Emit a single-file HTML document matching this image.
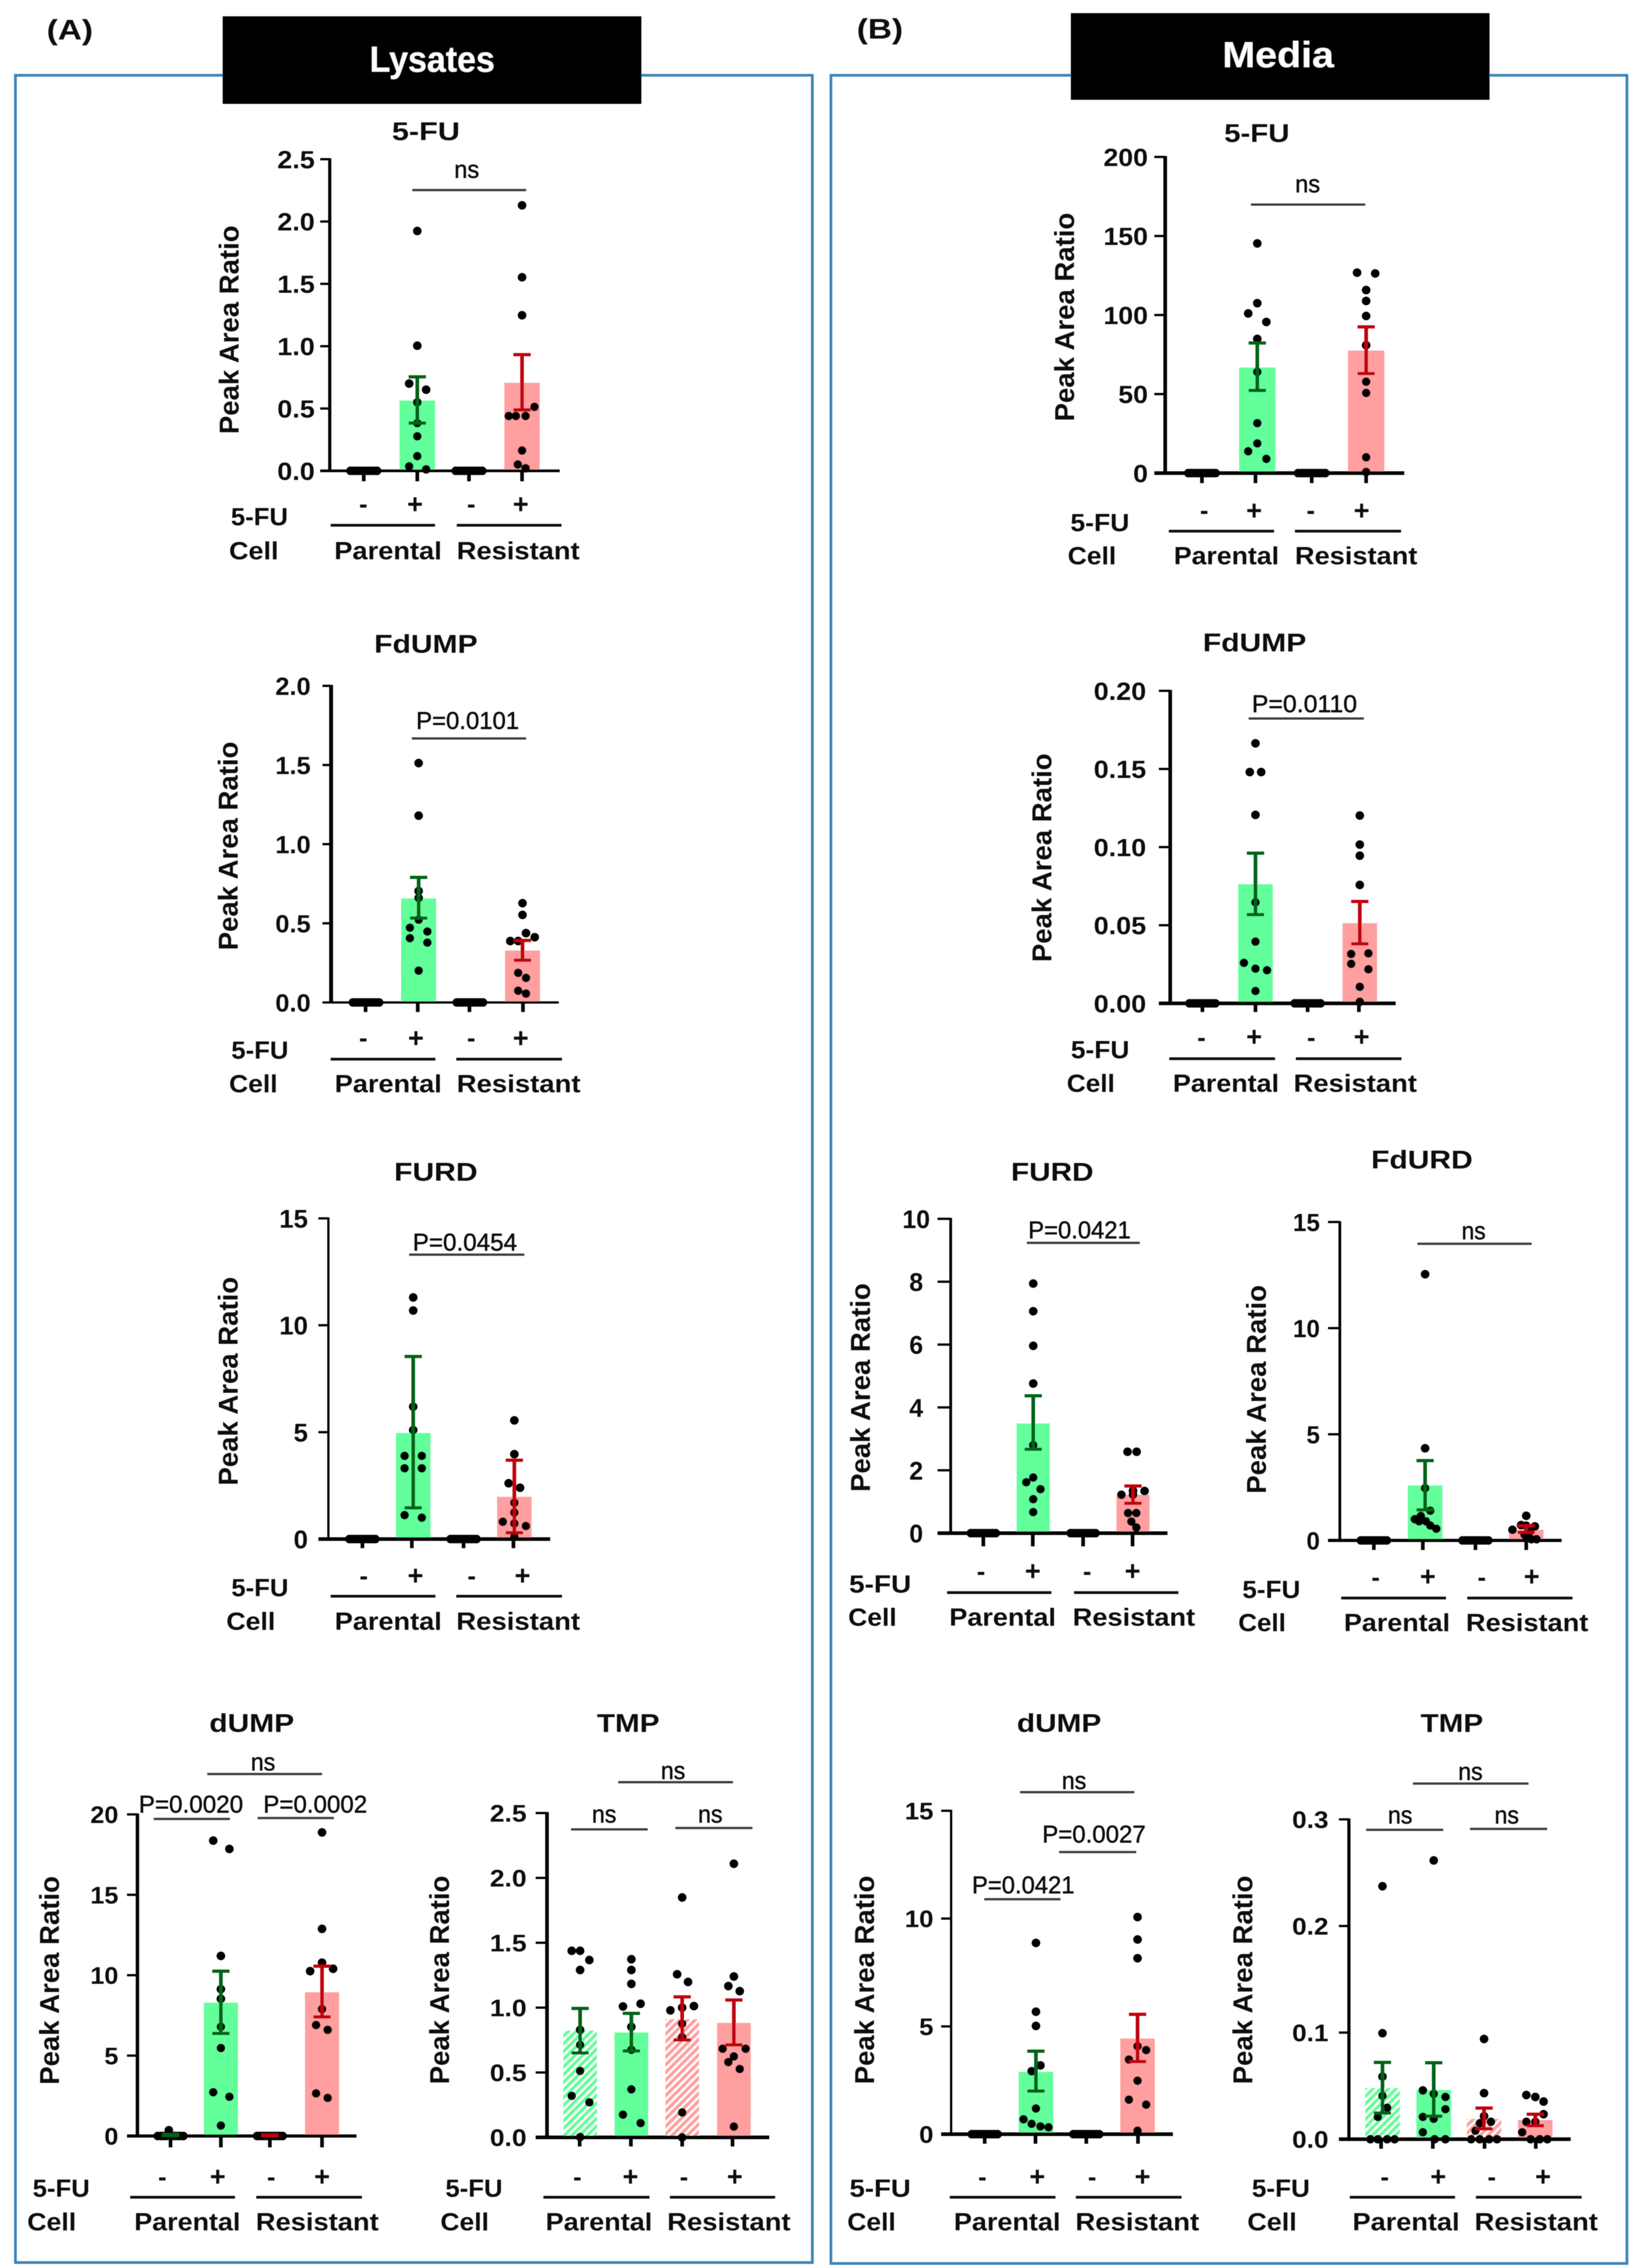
<!DOCTYPE html>
<html lang="en">
<head>
<meta charset="utf-8">
<title>Peak area ratio panels: lysates and media</title>
<style>
html,body{margin:0;padding:0;background:#fff}
svg{display:block;position:absolute;left:0;top:0}
text{font-family:"Liberation Sans",sans-serif;fill:#111}
</style>
</head>
<body>
<svg id="figure" width="3618" height="5000" viewBox="0 0 3618 5000">
  <defs>
    <filter id="soften" filterUnits="userSpaceOnUse" x="0" y="0" width="3618" height="5000">
      <feGaussianBlur stdDeviation="0.9"></feGaussianBlur>
    </filter>
    <pattern id="hatch-green" width="12" height="12" patternUnits="userSpaceOnUse" patternTransform="rotate(45)">
      <rect width="12" height="12" fill="#62ff9a"></rect>
      <rect width="5" height="12" fill="#ffffff"></rect>
    </pattern>
    <pattern id="hatch-red" width="12" height="12" patternUnits="userSpaceOnUse" patternTransform="rotate(45)">
      <rect width="12" height="12" fill="#ff9f9f"></rect>
      <rect width="5" height="12" fill="#ffffff"></rect>
    </pattern>
  </defs>
  <g id="canvas" filter="url(#soften)">
  <rect x="34" y="166" width="1757" height="4822" fill="none" stroke="#3d85b6" stroke-width="6"></rect>
  <rect x="1832" y="166" width="1755" height="4824" fill="none" stroke="#3d85b6" stroke-width="6"></rect>
  <rect x="491" y="36" width="923" height="193" fill="#000000"></rect>
  <rect x="2361" y="29" width="923" height="191" fill="#000000"></rect>
  <text x="953" y="158" font-size="80" font-weight="700" text-anchor="middle" textLength="276" lengthAdjust="spacingAndGlyphs" style="fill:#fff">Lysates</text>
  <text x="2818" y="148" font-size="80" font-weight="700" text-anchor="middle" textLength="246" lengthAdjust="spacingAndGlyphs" style="fill:#fff">Media</text>
  <text x="103" y="87" font-size="62" font-weight="700" textLength="102" lengthAdjust="spacingAndGlyphs">(A)</text>
  <text x="1889" y="85" font-size="62" font-weight="700" textLength="102" lengthAdjust="spacingAndGlyphs">(B)</text>
  </g>
</svg>
<script>
// Shared categories
const treatmentSigns = ['-', '+', '-', '+'];
const cellLines = ['Parental', 'Resistant'];
const noSignal = [0, 0, 0, 0, 0, 0, 0, 0, 0, 0];
const noSignalJitter = [-0.75, -0.58, -0.42, -0.25, -0.08, 0.08, 0.25, 0.42, 0.58, 0.75];

// Lysates 5-FU
const lysFuTicks = ['0.0', '0.5', '1.0', '1.5', '2.0', '2.5'];
const lysFuMeans = [0, 0.564, 0, 0.706];
const lysFuErrLow = [0, 0.383, 0, 0.489];
const lysFuErrHigh = [0, 0.754, 0, 0.932];
const lysFuValues = [noSignal, [1.924, 1.004, 0.70, 0.651, 0.549, 0.383, 0.277, 0.118, 0.036, 0.012], noSignal, [2.13, 1.553, 1.248, 0.513, 0.44, 0.44, 0.44, 0.163, 0.051, 0.021]];
const lysFuJitter = [noSignalJitter, [0, 0, -0.46, 0.5, 0, 0, 0, 0, -0.46, 0.5], noSignalJitter, [0, 0, 0, 0.7, -0.75, -0.35, 0.2, 0, -0.24, 0.2]];
const lysFuStats = ['ns'];

// Lysates FdUMP
const lysFdumpTicks = ['0.0', '0.5', '1.0', '1.5', '2.0'];
const lysFdumpMeans = [0, 0.657, 0, 0.328];
const lysFdumpErrLow = [0, 0.533, 0, 0.267];
const lysFdumpErrHigh = [0, 0.79, 0, 0.392];
const lysFdumpValues = [noSignal, [1.512, 1.18, 0.704, 0.523, 0.472, 0.448, 0.406, 0.378, 0.201, 0.66], noSignal, [0.627, 0.553, 0.438, 0.412, 0.388, 0.388, 0.187, 0.155, 0.074, 0.056]];
const lysFdumpJitter = [noSignalJitter, [0, 0, 0, 0, -0.5, 0.5, -0.5, 0.5, 0, 0], noSignalJitter, [0, 0, 0.2, 0.7, -0.7, -0.25, -0.25, 0.2, -0.25, 0.2]];
const lysFdumpStats = ['P=0.0101'];

// Lysates FURD
const lysFurdTicks = ['0', '5', '10', '15'];
const lysFurdMeans = [0, 4.96, 0, 1.976];
const lysFurdErrLow = [0, 1.46, 0, 0.296];
const lysFurdErrHigh = [0, 8.54, 0, 3.69];
const lysFurdValues = [noSignal, [11.3, 10.69, 6.19, 5.1, 3.89, 3.89, 3.31, 3.31, 1.12, 1.0], noSignal, [5.55, 3.97, 2.61, 2.4, 1.7, 1.24, 0.81, 0.73, 0.61, 0.11]];
const lysFurdJitter = [noSignalJitter, [0, 0, 0, 0, -0.5, 0.5, -0.5, 0.5, -0.5, 0.5], noSignalJitter, [0, 0, -0.33, 0.33, 0, 0, -0.67, 0, 0.67, 0]];
const lysFurdStats = ['P=0.0454'];

// Lysates dUMP
const lysDumpTicks = ['0', '5', '10', '15', '20'];
const lysDumpMeans = [0.05, 8.29, 0.03, 8.94];
const lysDumpErrLow = [0.03, 6.38, 0.02, 7.41];
const lysDumpErrHigh = [0.09, 10.25, 0.06, 10.56];
const lysDumpValues = [[0.36, 0, 0, 0, 0, 0, 0, 0, 0, 0], [18.37, 17.85, 11.2, 9.13, 8.53, 6.79, 5.47, 2.72, 2.44, 0.65], noSignal, [18.88, 12.88, 10.78, 10.25, 10.4, 7.89, 6.9, 6.6, 2.65, 2.37]];
const lysDumpJitter = [[-0.1, -0.75, -0.58, -0.42, -0.25, 0.08, 0.25, 0.42, 0.58, 0.75], [-0.45, 0.5, 0, 0, 0, 0, 0, -0.45, 0.5, 0], noSignalJitter, [0, 0, 0, -0.7, 0.65, 0, -0.35, 0.33, -0.35, 0.33]];
const lysDumpStats = ['ns', 'P=0.0020', 'P=0.0002'];

// Lysates TMP
const lysTmpTicks = ['0.0', '0.5', '1.0', '1.5', '2.0', '2.5'];
const lysTmpMeans = [0.8225, 0.808, 0.911, 0.882];
const lysTmpErrLow = [0.651, 0.666, 0.751, 0.713];
const lysTmpErrHigh = [0.994, 0.956, 1.083, 1.059];
const lysTmpValues = [[1.438, 1.438, 1.367, 1.29, 0.828, 0.713, 0.512, 0.32, 0.27, 0.003], [1.373, 1.29, 1.183, 1.009, 1.03, 0.852, 0.675, 0.37, 0.175, 0.11], [1.849, 1.257, 1.198, 1.012, 1.0, 0.979, 0.876, 0.772, 0.192, 0], [2.109, 1.24, 1.166, 1.127, 0.683, 0.683, 0.624, 0.58, 0.527, 0.083]];
const lysTmpJitter = [[-0.5, 0, 0.55, 0, 0, 0, 0, -0.5, 0.55, 0], [0, 0, 0, -0.5, 0.55, 0, 0, 0, -0.5, 0.55], [0, -0.3, 0.35, 0.7, 0, -0.7, 0, 0, 0, 0], [0, 0, -0.33, 0.35, -0.67, 0.7, 0, -0.33, 0.35, 0]];
const lysTmpStats = ['ns', 'ns', 'ns'];

// Media 5-FU
const medFuTicks = ['0', '50', '100', '150', '200'];
const medFuMeans = [0, 66.8, 0, 77.5];
const medFuErrLow = [0, 52.3, 0, 63];
const medFuErrHigh = [0, 82.3, 0, 92.5];
const medFuValues = [noSignal, [145.3, 107.5, 101, 95.6, 84.9, 64, 31.6, 18.8, 13.8, 9], noSignal, [126.8, 126.3, 115.8, 108.9, 99.4, 80.9, 57.8, 50.7, 10, 0.7]];
const medFuJitter = [noSignalJitter, [0, 0, -0.5, 0.5, 0, 0, 0, 0, -0.5, 0.5], noSignalJitter, [-0.5, 0.5, 0, 0, 0, 0, 0, 0, 0, 0]];
const medFuStats = ['ns'];

// Media FdUMP
const medFdumpTicks = ['0.00', '0.05', '0.10', '0.15', '0.20'];
const medFdumpMeans = [0, 0.0762, 0, 0.0513];
const medFdumpErrLow = [0, 0.0568, 0, 0.0381];
const medFdumpErrHigh = [0, 0.0961, 0, 0.0652];
const medFdumpValues = [noSignal, [0.1664, 0.148, 0.148, 0.1206, 0.0646, 0.0395, 0.0259, 0.0222, 0.0212, 0.0079], noSignal, [0.1202, 0.1016, 0.0945, 0.0758, 0.0316, 0.032, 0.0253, 0.0218, 0.0106, 0.001]];
const medFdumpJitter = [noSignalJitter, [0, -0.33, 0.33, 0, 0, 0, -0.67, 0, 0.67, 0], noSignalJitter, [0, 0, 0, 0, -0.5, 0.5, -0.5, 0.5, 0, 0]];
const medFdumpStats = ['P=0.0110'];

// Media FURD
const medFurdTicks = ['0', '2', '4', '6', '8', '10'];
const medFurdMeans = [0, 3.49, 0, 1.22];
const medFurdErrLow = [0, 2.67, 0, 0.95];
const medFurdErrHigh = [0, 4.37, 0, 1.5];
const medFurdValues = [noSignal, [7.94, 7.06, 5.96, 4.76, 2.8, 1.77, 1.62, 1.4, 1.08, 0.67], noSignal, [2.59, 2.59, 1.35, 1.34, 1.22, 1.22, 0.64, 0.64, 0.37, 0.18]];
const medFurdJitter = [noSignalJitter, [0, 0, 0, 0, 0, 0, -0.42, 0.44, 0, 0], noSignalJitter, [-0.33, 0.22, 0, 0.7, -0.7, 0, -0.3, 0.2, -0.1, 0.2]];
const medFurdStats = ['P=0.0421'];

// Media FdURD
const medFdurdTicks = ['0', '5', '10', '15'];
const medFdurdMeans = [0, 2.59, 0, 0.5];
const medFdurdErrLow = [0, 1.44, 0, 0.38];
const medFdurdErrHigh = [0, 3.76, 0, 0.69];
const medFdurdValues = [noSignal, [12.54, 4.34, 2.46, 1.4, 1.15, 1.0, 0.9, 0.9, 0.7, 0.55], noSignal, [1.16, 0.69, 0.72, 0.66, 0.5, 0.42, 0.27, 0.16, 0.06, 0.06]];
const medFdurdJitter = [noSignalJitter, [0, 0, 0, 0.3, -0.25, -0.6, -0.35, 0.05, 0.3, 0.65], noSignalJitter, [0, 0, -0.3, 0.5, -0.8, 0.2, -0.1, 0.1, 0.6, 0.3]];
const medFdurdStats = ['ns'];

// Media dUMP
const medDumpTicks = ['0', '5', '10', '15'];
const medDumpMeans = [0, 2.886, 0, 4.436];
const medDumpErrLow = [0, 2.0, 0, 3.37];
const medDumpErrHigh = [0, 3.85, 0, 5.56];
const medDumpValues = [noSignal, [8.87, 5.68, 5.02, 3.19, 2.92, 1.19, 0.69, 0.48, 0.36, 0.32], noSignal, [10.07, 9.03, 8.16, 4.08, 3.9, 3.46, 2.48, 1.6, 1.37, 0.16]];
const medDumpJitter = [noSignalJitter, [0, 0, 0, 0.26, -0.25, 0, -0.72, -0.25, 0.26, 0.73], noSignalJitter, [0, 0, 0, 0, 0.5, -0.5, 0, -0.5, 0.5, 0]];
const medDumpStats = ['ns', 'P=0.0027', 'P=0.0421'];

// Media TMP
const medTmpTicks = ['0.0', '0.1', '0.2', '0.3'];
const medTmpMeans = [0.0479, 0.0461, 0.0191, 0.018];
const medTmpErrLow = [0.0245, 0.0216, 0.0097, 0.0126];
const medTmpErrHigh = [0.072, 0.0717, 0.0292, 0.0234];
const medTmpValues = [[0.2373, 0.0994, 0.0587, 0.0407, 0.0295, 0.0209, 0, 0, 0, 0], [0.2615, 0.0457, 0.0425, 0.0396, 0.0281, 0.0209, 0.0191, 0.0065, 0, 0], [0.094, 0.0432, 0.0216, 0.0162, 0.015, 0.0079, 0, 0, 0, 0], [0.0414, 0.0396, 0.0353, 0.0234, 0.0162, 0.0162, 0.0065, 0, 0, 0]];
const medTmpJitter = [[0, 0, 0, 0, 0.27, -0.27, -0.7, -0.27, 0.27, 0.7], [0, -0.63, 0, 0.68, 0.68, -0.63, 0, -0.63, 0.05, 0.68], [0, 0, 0, 0.4, -0.25, -0.5, -0.75, -0.25, 0.3, 0.75], [-0.52, 0, 0.48, 0.48, -0.52, 0, -0.76, -0.27, 0.26, 0.7]];
const medTmpStats = ['ns', 'ns', 'ns'];

// Layout of each panel (canvas geometry, separate from the data above)
const charts = [
  {name: 'lysates-5fu-chart', title: '5-FU', ticks: lysFuTicks, means: lysFuMeans, low: lysFuErrLow, high: lysFuErrHigh, values: lysFuValues, jitter: lysFuJitter, stats: lysFuStats,
   axisX: 727, top: 351, y0: 1038, end: 1234, tickL: 706, tickB: 1061, yW: 7, xW: 6, centers: [802, 920, 1034, 1151], xticks: [802, 920, 1034, 1151], barW: 78,
   titlePos: [939, 309, 150], labR: 694, labFs: 55, labFx: 1.08, yTitle: [526, 727], signX: [801, 915, 1039, 1148], minusY: 1115, plusY: 1111,
   fu: [509, 635, 1158], cell: [505, 614, 1233], par: [737, 974], res: [1007, 1278], lines: [[729, 959], [1007, 1238]], lineY: 1158,
   statPos: [[909, 1160, 419, 1029, 392, 55]]},
  {name: 'lysates-fdump-chart', title: 'FdUMP', ticks: lysFdumpTicks, means: lysFdumpMeans, low: lysFdumpErrLow, high: lysFdumpErrHigh, values: lysFdumpValues, jitter: lysFdumpJitter, stats: lysFdumpStats,
   axisX: 730, top: 1512, y0: 2210, end: 1232, tickL: 711, tickB: 2231, yW: 8.5, xW: 5, centers: [807, 923, 1036, 1152], xticks: [806, 921, 1035, 1153], barW: 77,
   titlePos: [939, 1439, 228], labR: 685, labFs: 55, labFx: 1.02, yTitle: [524, 1865], signX: [801, 917, 1039, 1148], minusY: 2292, plusY: 2288,
   fu: [510, 636, 2334], cell: [505, 612, 2408], par: [738, 974], res: [1007, 1280], lines: [[729, 960], [1006, 1239]], lineY: 2335,
   statPos: [[908, 1160, 1628, 1031, 1607, 227]]},
  {name: 'lysates-furd-chart', title: 'FURD', ticks: lysFurdTicks, means: lysFurdMeans, low: lysFurdErrLow, high: lysFurdErrHigh, values: lysFurdValues, jitter: lysFurdJitter, stats: lysFurdStats,
   axisX: 724, top: 2686, y0: 3393, end: 1213, tickL: 702, tickB: 3413, yW: 5, xW: 8, centers: [799, 911, 1022, 1134], xticks: [799, 908, 1022, 1132], barW: 76,
   titlePos: [961, 2603, 184], labR: 679, labFs: 57, labFx: 1.0, yTitle: [524, 3045], signX: [802, 916, 1040, 1152], minusY: 3478, plusY: 3473,
   fu: [510, 636, 3519], cell: [499, 607, 3593], par: [738, 974], res: [1006, 1279], lines: [[729, 960], [1006, 1239]], lineY: 3519,
   statPos: [[902, 1156, 2766, 1025, 2757, 230]]},
  {name: 'lysates-dump-chart', title: 'dUMP', ticks: lysDumpTicks, means: lysDumpMeans, low: lysDumpErrLow, high: lysDumpErrHigh, values: lysDumpValues, jitter: lysDumpJitter, stats: lysDumpStats,
   axisX: 303, top: 4000, y0: 4709, end: 786, tickL: 280, tickB: 4734, yW: 7.5, xW: 7, centers: [376, 487, 595, 710], xticks: [376, 487, 595, 710], barW: 75,
   titlePos: [555, 3818, 187], labR: 261, labFs: 53, labFx: 1.05, yTitle: [130, 4366], signX: [358, 480, 598, 710], minusY: 4803, plusY: 4798,
   fu: [72, 198, 4843], cell: [60, 168, 4917], par: [296, 530], res: [564, 835], lines: [[287, 518], [565, 798]], lineY: 4844,
   statPos: [[457, 710, 3911, 580, 3903, 54], [339, 507, 4010, 421, 3996, 230], [568, 736, 4008, 695, 3996, 229]]},
  {name: 'lysates-tmp-chart', title: 'TMP', ticks: lysTmpTicks, means: lysTmpMeans, low: lysTmpErrLow, high: lysTmpErrHigh, values: lysTmpValues, jitter: lysTmpJitter, stats: lysTmpStats,
   axisX: 1206, top: 3997, y0: 4712, end: 1696, tickL: 1181, tickB: 4732, yW: 8, xW: 8, centers: [1279, 1392, 1504, 1618], xticks: [1278, 1391, 1504, 1615], barW: 74, hatch: [true, false, true, false],
   titlePos: [1385, 3818, 138], labR: 1161, labFs: 53, labFx: 1.1, yTitle: [990, 4365], signX: [1273, 1390, 1508, 1620], minusY: 4803, plusY: 4798,
   fu: [982, 1108, 4843], cell: [971, 1078, 4917], par: [1203, 1438], res: [1471, 1743], lines: [[1198, 1432], [1477, 1709]], lineY: 4844,
   statPos: [[1363, 1616, 3929, 1484, 3922, 54], [1259, 1428, 4033, 1332, 4018, 54], [1489, 1659, 4030, 1566, 4018, 54]]},
  {name: 'media-5fu-chart', title: '5-FU', ticks: medFuTicks, means: medFuMeans, low: medFuErrLow, high: medFuErrHigh, values: medFuValues, jitter: medFuJitter, stats: medFuStats,
   axisX: 2569, top: 346, y0: 1043, end: 3096, tickL: 2545, tickB: 1065, yW: 8, xW: 8, centers: [2650, 2772, 2892, 3012], xticks: [2650, 2768, 2892, 3012], barW: 80,
   titlePos: [2771, 313, 144], labR: 2531, labFs: 55, labFx: 1.07, yTitle: [2368, 699], signX: [2655, 2765, 2890, 3002], minusY: 1129, plusY: 1125,
   fu: [2360, 2490, 1171], cell: [2354, 2461, 1244], par: [2588, 2820], res: [2855, 3125], lines: [[2577, 2809], [2855, 3089]], lineY: 1171,
   statPos: [[2758, 3010, 451, 2883, 424, 55]]},
  {name: 'media-fdump-chart', title: 'FdUMP', ticks: medFdumpTicks, means: medFdumpMeans, low: medFdumpErrLow, high: medFdumpErrHigh, values: medFdumpValues, jitter: medFdumpJitter, stats: medFdumpStats,
   axisX: 2580, top: 1523, y0: 2212, end: 3077, tickL: 2555, tickB: 2231, yW: 8, xW: 8, centers: [2651, 2768, 2883, 2998], xticks: [2651, 2768, 2883, 2996], barW: 76,
   titlePos: [2766, 1436, 228], labR: 2527, labFs: 55, labFx: 1.08, yTitle: [2318, 1891], signX: [2649, 2765, 2891, 3002], minusY: 2291, plusY: 2285,
   fu: [2361, 2490, 2333], cell: [2352, 2458, 2407], par: [2586, 2820], res: [2852, 3124], lines: [[2578, 2811], [2857, 3090]], lineY: 2334,
   statPos: [[2753, 3007, 1584, 2876, 1570, 232]]},
  {name: 'media-furd-chart', title: 'FURD', ticks: medFurdTicks, means: medFurdMeans, low: medFurdErrLow, high: medFurdErrHigh, values: medFurdValues, jitter: medFurdJitter, stats: medFurdStats,
   axisX: 2096, top: 2687, y0: 3380, end: 2574, tickL: 2067, tickB: 3409, yW: 6, xW: 8, centers: [2168, 2278, 2388, 2498], xticks: [2168, 2277, 2388, 2497], barW: 73,
   titlePos: [2320, 2603, 182], labR: 2020, labAnchor: 'middle', labFs: 57, labFx: 0.96, yTitle: [1918, 3059], signX: [2163, 2277, 2397, 2497], minusY: 3468, plusY: 3463,
   fu: [1872, 2009, 3511], cell: [1870, 1977, 3584], par: [2093, 2328], res: [2365, 2635], lines: [[2088, 2318], [2368, 2598]], lineY: 3511,
   statPos: [[2264, 2513, 2740, 2380, 2730, 226]]},
  {name: 'media-fdurd-chart', title: 'FdURD', ticks: medFdurdTicks, means: medFdurdMeans, low: medFdurdErrLow, high: medFdurdErrHigh, values: medFdurdValues, jitter: medFdurdJitter, stats: medFdurdStats,
   axisX: 2954, top: 2694, y0: 3396, end: 3443, tickL: 2928, tickB: 3417, yW: 6, xW: 7, centers: [3029, 3142, 3253, 3365], xticks: [3029, 3137, 3253, 3365], barW: 76,
   titlePos: [3135, 2576, 224], labR: 2910, labFs: 55, labFx: 0.97, yTitle: [2791, 3063], signX: [3033, 3148, 3267, 3377], minusY: 3481, plusY: 3475,
   fu: [2739, 2867, 3523], cell: [2730, 2835, 3596], par: [2963, 3197], res: [3232, 3502], lines: [[2957, 3188], [3235, 3467]], lineY: 3523,
   statPos: [[3125, 3377, 2742, 3249, 2732, 53]]},
  {name: 'media-dump-chart', title: 'dUMP', ticks: medDumpTicks, means: medDumpMeans, low: medDumpErrLow, high: medDumpErrHigh, values: medDumpValues, jitter: medDumpJitter, stats: medDumpStats,
   axisX: 2097, top: 3992, y0: 4705, end: 2586, tickL: 2075, tickB: 4726, yW: 5, xW: 8, centers: [2171, 2284, 2395, 2508], xticks: [2171, 2283, 2395, 2509], barW: 76,
   titlePos: [2335, 3818, 186], labR: 2058, labFs: 53, labFx: 1.07, yTitle: [1927, 4365], signX: [2166, 2287, 2408, 2519], minusY: 4803, plusY: 4798,
   fu: [1873, 2008, 4843], cell: [1868, 1975, 4917], par: [2103, 2338], res: [2371, 2644], lines: [[2094, 2327], [2372, 2605]], lineY: 4844,
   statPos: [[2249, 2501, 3951, 2368, 3944, 54], [2335, 2505, 4083, 2412, 4062, 228], [2170, 2338, 4187, 2256, 4174, 226]]},
  {name: 'media-tmp-chart', title: 'TMP', ticks: medTmpTicks, means: medTmpMeans, low: medTmpErrLow, high: medTmpErrHigh, values: medTmpValues, jitter: medTmpJitter, stats: medTmpStats,
   axisX: 2974, top: 4011, y0: 4716, end: 3463, tickL: 2952, tickB: 4737, yW: 7, xW: 8, centers: [3048, 3161, 3272, 3385], xticks: [3045, 3159, 3273, 3386], barW: 76, hatch: [true, false, true, false],
   titlePos: [3201, 3818, 138], labR: 2929, labFs: 53, labFx: 1.09, yTitle: [2761, 4365], signX: [3053, 3171, 3289, 3402], minusY: 4803, plusY: 4798,
   fu: [2760, 2888, 4843], cell: [2750, 2859, 4917], par: [2982, 3218], res: [3251, 3523], lines: [[2976, 3208], [3254, 3487]], lineY: 4844,
   statPos: [[3115, 3370, 3932, 3242, 3924, 54], [3012, 3182, 4034, 3087, 4020, 54], [3241, 3411, 4032, 3322, 4020, 54]]}
];

const root = document.getElementById('canvas');
const SVGNS = root.namespaceURI;
const barFills = ['#62ff9a', '#62ff9a', '#ff9f9f', '#ff9f9f'];
const hatchFills = ['url(#hatch-green)', 'url(#hatch-green)', 'url(#hatch-red)', 'url(#hatch-red)'];
const errColors = ['#056212', '#056212', '#c00010', '#c00010'];

function mk(parent, tag, attrs) {
  const node = document.createElementNS(SVGNS, tag);
  for (const key in attrs) node.setAttribute(key, attrs[key]);
  parent.appendChild(node);
  return node;
}

function line(parent, x1, y1, x2, y2, stroke, width) {
  return mk(parent, 'line', {x1: x1, y1: y1, x2: x2, y2: y2, stroke: stroke, 'stroke-width': width});
}

function label(parent, str, x, y, size, weight, anchor, length) {
  const node = mk(parent, 'text', {x: x, y: y, 'font-size': size, 'font-weight': weight, 'text-anchor': anchor});
  if (length) {
    node.setAttribute('textLength', length);
    node.setAttribute('lengthAdjust', 'spacingAndGlyphs');
  }
  node.textContent = str;
  return node;
}

function drawChart(c) {
  const g = mk(root, 'g', {});
  
  

  const domainMax = parseFloat(c.ticks[c.ticks.length - 1]);
  const yScale = function (v) { return c.y0 - (v / domainMax) * (c.y0 - c.top); };
  const xScale = function (group, offset) { return c.centers[group] + offset * c.barW / 2; };

  // Bars
  c.means.forEach(function (m, i) {
    const h = yScale(0) - yScale(m);
    const fill = c.hatch && c.hatch[i] ? hatchFills[i] : barFills[i];
    const bar = mk(g, 'rect', {x: xScale(i, -1), y: yScale(m), width: c.barW, height: h, fill: fill});
    
    
  });

  // Axes
  const yAxis = line(g, c.axisX, c.top - 2, c.axisX, c.y0 + 2, '#000', c.yW);
  
  
  const xAxis = line(g, c.tickL, c.y0, c.end, c.y0, '#000', c.xW);
  
  

  c.ticks.forEach(function (t) {
    const v = parseFloat(t);
    const ty = yScale(v);
    const mark = line(g, c.tickL, ty, c.axisX, ty, '#000', 5);
    
    
    const tl = mk(g, 'text', {'font-size': c.labFs, 'font-weight': 700, 'text-anchor': c.labAnchor || 'end', transform: 'translate(' + c.labR + ',' + (ty + c.labFs * 0.36) + ') scale(' + c.labFx + ',1)'});
    tl.textContent = t;
    
    
  });

  c.xticks.forEach(function (tx) {
    const mark = line(g, tx, c.y0, tx, c.tickB, '#000', 8);
    
    
  });

  // Individual data points
  c.values.forEach(function (series, i) {
    series.forEach(function (v, k) {
      const dot = mk(g, 'circle', {cx: xScale(i, c.jitter[i][k]), cy: yScale(v), r: 9.5, fill: '#000'});
      
      
    });
  });

  // Error bars
  c.means.forEach(function (m, i) {
    if (c.high[i] <= c.low[i]) return;
    const cx = c.centers[i];
    const stem = line(g, cx, yScale(c.low[i]), cx, yScale(c.high[i]), errColors[i], 8);
    
    
    const capHigh = line(g, cx - 19, yScale(c.high[i]), cx + 19, yScale(c.high[i]), errColors[i], 7);
    
    
    const capLow = line(g, cx - 19, yScale(c.low[i]), cx + 19, yScale(c.low[i]), errColors[i], 7);
    
    
  });

  // Title and axis title
  const title = label(g, c.title, c.titlePos[0], c.titlePos[1], 57, 700, 'middle', c.titlePos[2]);
  
  

  const yTitle = mk(g, 'text', {'font-size': 60, 'font-weight': 700, 'text-anchor': 'middle', textLength: 460, lengthAdjust: 'spacingAndGlyphs', transform: 'translate(' + c.yTitle[0] + ',' + c.yTitle[1] + ') rotate(-90)'});
  yTitle.textContent = 'Peak Area Ratio';
  
  

  // Treatment and cell line labels
  treatmentSigns.forEach(function (s, i) {
    const isPlus = s === '+';
    const sign = label(g, s, c.signX[i], isPlus ? c.plusY + 21 : c.minusY + 15, isPlus ? 60 : 56, 700, 'middle');
    
    
  });

  const fu = label(g, '5-FU', c.fu[0], c.fu[2], 55, 700, 'start', c.fu[1] - c.fu[0]);
  
  
  const cell = label(g, 'Cell', c.cell[0], c.cell[2], 55, 700, 'start', c.cell[1] - c.cell[0]);
  
  
  const par = label(g, cellLines[0], c.par[0], c.cell[2], 55, 700, 'start', c.par[1] - c.par[0]);
  
  
  const res = label(g, cellLines[1], c.res[0], c.cell[2], 55, 700, 'start', c.res[1] - c.res[0]);
  
  

  c.lines.forEach(function (pair) {
    const rule = line(g, pair[0], c.lineY, pair[1], c.lineY, '#111', 6);
    
    
  });

  // Significance brackets
  c.stats.forEach(function (s, i) {
    const p = c.statPos[i];
    const bracket = line(g, p[0], p[2], p[1], p[2], '#3c3c3c', 5);
    
    
    const st = label(g, s, p[3], p[4], 54, 400, 'middle', p[5]);
    st.setAttribute('stroke', '#111');
    st.setAttribute('stroke-width', '0.9');
    
    
  });
}

charts.forEach(drawChart);
</script>
</body>
</html>
